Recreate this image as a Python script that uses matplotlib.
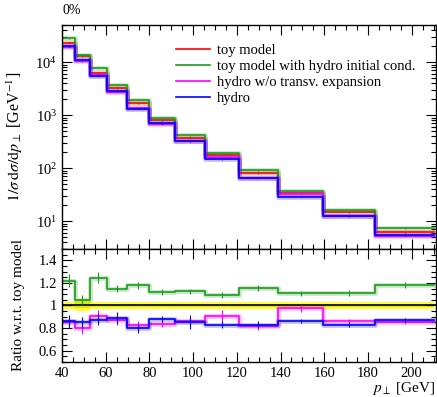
import numpy as np
import matplotlib
matplotlib.use('Agg')
import matplotlib.pyplot as plt
from matplotlib.ticker import MultipleLocator

plt.rcParams['font.family'] = ['Liberation Serif', 'DejaVu Serif']
plt.rcParams['mathtext.fontset'] = 'stix'

# bin edges in p_perp [GeV]
edges = np.array([40, 46, 52.7, 60.5, 69.5, 79.8, 91.7, 105.3, 120.9, 138.9, 159.5, 183.2, 210.4])

# toy model spectrum (1/sigma dsigma/dp)
toy = np.array([23100, 13000, 6300, 3200, 1660, 805, 373, 176, 79.5, 33.4, 14.8, 6.2])
toy_err = np.array([0.035, 0.05, 0.035, 0.035, 0.035, 0.035, 0.03, 0.03, 0.03, 0.03, 0.03, 0.03])

# ratios w.r.t. toy model
r_init = np.array([1.22, 1.05, 1.245, 1.15, 1.18, 1.12, 1.125, 1.09, 1.155, 1.107, 1.113, 1.18])
r_init_err = np.array([0.06, 0.04, 0.05, 0.03, 0.03, 0.025, 0.025, 0.025, 0.025, 0.02, 0.025, 0.025])
r_notrans = np.array([0.85, 0.80, 0.91, 0.87, 0.83, 0.84, 0.86, 0.906, 0.815, 0.976, 0.863, 0.855])
r_notrans_err = np.array([0.05, 0.05, 0.05, 0.04, 0.03, 0.03, 0.03, 0.05, 0.03, 0.03, 0.02, 0.02])
r_hydro = np.array([0.86, 0.85, 0.875, 0.89, 0.80, 0.88, 0.855, 0.83, 0.83, 0.863, 0.83, 0.872])
r_hydro_err = np.array([0.06, 0.05, 0.05, 0.05, 0.04, 0.03, 0.06, 0.03, 0.03, 0.02, 0.02, 0.02])

labels = ['toy model', 'toy model with hydro initial cond.',
          'hydro w/o transv. expansion', 'hydro']
colors = ['red', '#1f9a1f', 'magenta', 'blue']

fig = plt.figure(figsize=(4.37, 3.97), dpi=100)
ax = fig.add_axes([0.142, 0.373, 0.855, 0.564])
axr = fig.add_axes([0.142, 0.088, 0.855, 0.285], sharex=ax)

centers = 0.5 * (edges[:-1] + edges[1:])

def step(a, vals, col, lab=None, lw=1.2):
    y = np.append(vals, vals[-1])
    a.step(edges, y, where='post', color=col, lw=lw + 2.2, alpha=0.25)
    a.step(edges, y, where='post', color=col, lw=lw, label=lab)

series = [(np.ones(12), toy_err), (r_init, r_init_err), (r_notrans, r_notrans_err), (r_hydro, r_hydro_err)]

# main panel
for (r, e), col, lab in zip(series, colors, labels):
    vals = toy * r
    step(ax, vals, col, lab)
    ax.errorbar(centers, vals, yerr=vals * 0.02, fmt='none', ecolor=col, elinewidth=0.8)

ax.set_yscale('log')
ax.set_ylim(3, 50000)
ax.set_xlim(40, 211)
ax.set_ylabel(r'$1/\sigma\,\mathrm{d}\sigma/\mathrm{d}p_\perp$ [GeV$^{-1}$]', fontsize=11.5)
ax.yaxis.set_label_coords(-0.1, 0.5)
ax.tick_params(labelbottom=False)
leg = ax.legend(loc='upper left', bbox_to_anchor=(0.27, 0.975), frameon=False, fontsize=10.5,
                handlelength=2.3, labelspacing=0.2, handletextpad=0.5)

# ratio panel
band = np.append(toy_err, toy_err[-1])
axr.fill_between(edges, 1 - band, 1 + band, step='post', color='#ffff33', lw=0)
axr.fill_between(edges, 1 - band / 2, 1 + band / 2, step='post', color='#e6e600', lw=0)
axr.axhline(1, color='black', lw=1.2)
for (r, e), col in zip(series[1:], colors[1:]):
    step(axr, r, col)
    axr.errorbar(centers, r, yerr=e, fmt='none', ecolor=col, elinewidth=0.8)
axr.set_ylim(0.5, 1.5)
axr.yaxis.set_minor_locator(MultipleLocator(0.05))
axr.set_yticks([0.6, 0.8, 1.0, 1.2, 1.4])
axr.set_yticklabels(['0.6', '0.8', '1', '1.2', '1.4'])
axr.set_ylabel('Ratio w.r.t. toy model', fontsize=11)
axr.yaxis.set_label_coords(-0.1, 0.5)
axr.xaxis.set_major_locator(MultipleLocator(20))
axr.xaxis.set_minor_locator(MultipleLocator(5))
axr.set_xlabel(r'$p_\perp$ [GeV]', fontsize=11, loc='right', labelpad=0)

for a in (ax, axr):
    a.tick_params(which='both', direction='in', top=True, right=True, labelsize=10.5)
    a.tick_params(which='major', length=7, width=0.8)
    a.tick_params(which='minor', length=3.5, width=0.8)
    for s in a.spines.values():
        s.set_linewidth(1.0)

fig.text(0.144, 0.965, '0%', fontsize=10)

fig.savefig('out.png', dpi=100)
